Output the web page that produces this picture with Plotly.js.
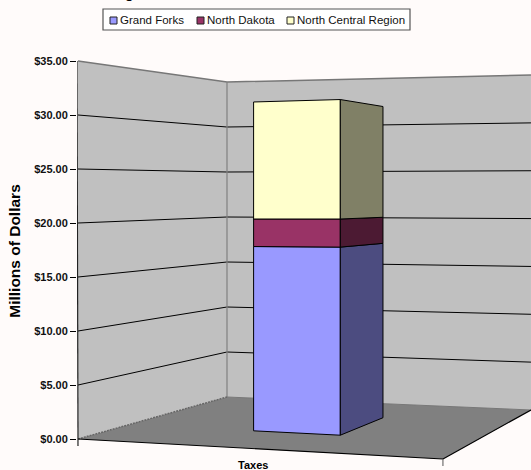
<!DOCTYPE html>
<html><head><meta charset="utf-8">
<script src="https://cdn.plot.ly/plotly-3.0.1.min.js"></script>
<style>html,body{margin:0;padding:0;background:#fffbfa}</style></head>
<body><div id="chart" style="width:531px;height:470px"></div>
<script>
const categories = ['Taxes'];
const seriesNames = ['Grand Forks', 'North Dakota', 'North Central Region'];
const grandForks = [17.4];
const northDakota = [2.6];
const northCentralRegion = [11.05];
const yTicks = [0, 5, 10, 15, 20, 25, 30, 35];
const faceColors = ['#9999ff', '#993366', '#ffffcc'];
const sideColors = ['#4c4c80', '#4c1a33', '#808066'];

const W = 531, H = 470, TOP = 32, LEFT = 77;
// oblique camera: u along the category axis, v into the depth, z in dollars
const g = -0.0832, h = 0.2247;
function project(u, v, z) {
  const w = 1 + g * u + h * v;
  const px = (328.1 * u + 200 * v + 78) / w;
  const floorY = (-18.2 * u + 47.2 * v + 439) / w;
  const s = (1 - u) * (1 - v) * 10.8 + u * (1 - v) * 11.8 + u * v * 9.57 + (1 - u) * v * 9;
  const py = floorY - s * z;
  return [px, (439 - py) / 10.8];
}
const Y = py => (439 - py) / 10.8;
function path(pts) {
  return { x: pts.map(p => p[0]), y: pts.map(p => p[1]) };
}
const traces = [];
function poly(pts, fill, line, lw, name) {
  const c = path(pts.concat([pts[0]]));
  traces.push({ type: 'scatter', mode: 'lines', x: c.x, y: c.y, fill: 'toself', fillcolor: fill,
    line: { color: line || fill, width: lw === undefined ? 1 : lw }, name: name || '', showlegend: false, hoverinfo: 'name' });
}
function line(pts, color, width, dash) {
  const c = path(pts);
  traces.push({ type: 'scatter', mode: 'lines', x: c.x, y: c.y,
    line: { color: color, width: width, dash: dash || 'solid' }, showlegend: false, hoverinfo: 'skip' });
}
const zTop = yTicks[yTicks.length - 1];
// walls and floor
poly([project(0,0,0), project(0,1,0), project(0,1,zTop), project(0,0,zTop)], '#c0c0c0', '#c0c0c0', 0);
poly([project(0,1,0), project(1,1,0), project(1,1,zTop), project(0,1,zTop)], '#c0c0c0', '#c0c0c0', 0);
poly([project(0,0,0), project(1,0,0), project(1,1,0), project(0,1,0)], '#808080', '#808080', 0);
// gridlines
yTicks.forEach(t => {
  if (t === 0) return;
  const c = t === zTop ? '#777777' : '#000000';
  line([project(0,0,t), project(0,1,t), project(1,1,t)], c, t === zTop ? 1.5 : 1);
});
line([project(0,1,0), project(0,1,zTop)], '#808080', 1.2);
line([project(0,0,0), project(0,1,0)], '#666666', 1.5, '2px,1px');
line([project(0,1,0), project(1,1,0)], '#777777', 1);
line([project(0,0,0), project(1,0,0)], '#000000', 1.2);
line([project(1,0,0), project(1,1,0)], '#000000', 1.2);
// left axis and category ticks
line([[77, Y(61)], [78, Y(446)]], '#222222', 1.2);
line([project(1,0,0), [project(1,0,0)[0], Y(466)]], '#555555', 1);

// the stacked bar
const u0 = 0.38, u1 = 0.632, v0 = 0.30, v1 = 0.68;
let base = 0;
[grandForks, northDakota, northCentralRegion].forEach((vals, i) => {
  const top = base + vals[0];
  poly([project(u0,v0,base), project(u1,v0,base), project(u1,v0,top), project(u0,v0,top)], faceColors[i], '#000000', 1, seriesNames[i]);
  poly([project(u1,v0,base), project(u1,v1,base), project(u1,v1,top), project(u1,v0,top)], sideColors[i], '#000000', 1, seriesNames[i]);
  base = top;
});

const paperY = py => (H - py) / (H - TOP);
const paperX = px => (px - LEFT) / (W - LEFT);
const FONT = 'Liberation Sans, Arial, sans-serif';
const legendX = [[110, 120], [197, 207], [287, 297]];
const shapes = [{ type: 'rect', xref: 'paper', yref: 'paper', x0: paperX(103), x1: paperX(410), y0: paperY(30), y1: paperY(9),
  line: { color: '#555555', width: 1.2 }, fillcolor: '#ffffff' }];
const annotations = [
  { xref: 'x', yref: 'y', x: project(0.5,0,0)[0], y: Y(465), yanchor: 'middle', text: '<b>' + categories[0] + '</b>', showarrow: false,
    font: { family: FONT, size: 11, color: '#000' } },
  { xref: 'paper', yref: 'paper', x: paperX(123), y: paperY(3), yanchor: 'bottom', text: '<b>g</b>', showarrow: false,
    font: { family: FONT, size: 14, color: '#000' } }
];
seriesNames.forEach((n, i) => {
  shapes.push({ type: 'rect', xref: 'paper', yref: 'paper', x0: paperX(legendX[i][0]), x1: paperX(legendX[i][0] + 7),
    y0: paperY(24), y1: paperY(17), fillcolor: faceColors[i], line: { color: '#222', width: 1 } });
  annotations.push({ xref: 'paper', yref: 'paper', x: paperX(legendX[i][1]), y: paperY(20), xanchor: 'left', yanchor: 'middle', xshift: -2, text: n,
    showarrow: false, font: { family: FONT, size: 11.5, color: '#111' } });
});

const layout = {
  width: W, height: H, autosize: false,
  margin: { l: LEFT, r: 0, t: TOP, b: 0, pad: 0 },
  paper_bgcolor: '#fffbfa', plot_bgcolor: 'rgba(0,0,0,0)', showlegend: false,
  hovermode: false,
  xaxis: { range: [LEFT, W], visible: false, fixedrange: true },
  yaxis: {
    range: [Y(H), Y(TOP)], tickvals: yTicks, tickformat: '$.2f', ticks: 'outside', ticklen: 6, tickwidth: 1, tickcolor: '#000',
    showgrid: false, zeroline: false, showline: false, fixedrange: true,
    tickfont: { family: FONT, size: 11, color: '#111', weight: 'bold' },
    title: { text: '<b>Millions of Dollars</b>', standoff: 9, font: { family: FONT, size: 15.5, color: '#000' } }
  },
  shapes, annotations
};
Plotly.newPlot('chart', traces, layout, { displayModeBar: false, staticPlot: true });
</script></body></html>
